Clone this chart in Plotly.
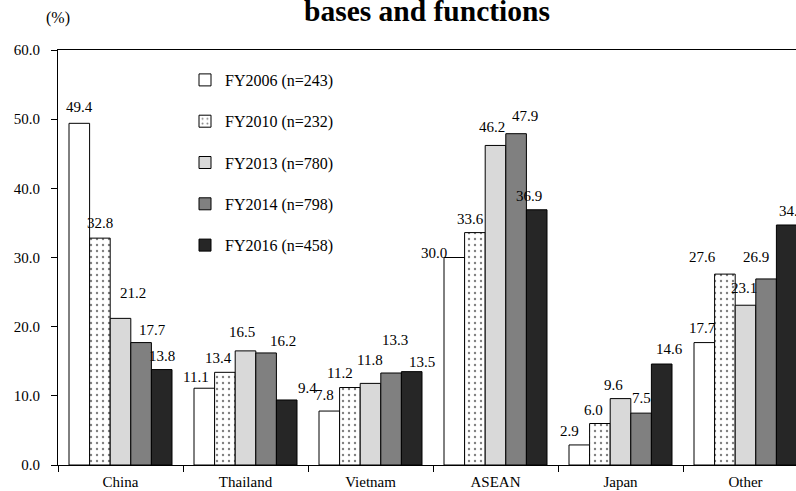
import plotly.graph_objects as go

categories = ["China", "Thailand", "Vietnam", "ASEAN", "Japan", "Other"]
series_names = ["FY2006 (n=243)", "FY2010 (n=232)", "FY2013 (n=780)", "FY2014 (n=798)", "FY2016 (n=458)"]
fy2006 = [49.4, 11.1, 7.8, 30.0, 2.9, 17.7]
fy2010 = [32.8, 13.4, 11.2, 33.6, 6.0, 27.6]
fy2013 = [21.2, 16.5, 11.8, 46.2, 9.6, 23.1]
fy2014 = [17.7, 16.2, 13.3, 47.9, 7.5, 26.9]
fy2016 = [13.8, 9.4, 13.5, 36.9, 14.6, 34.7]
series_values = [fy2006, fy2010, fy2013, fy2014, fy2016]
y_ticks = [0, 10, 20, 30, 40, 50, 60]

# styling
fills = ["#ffffff", "#ffffff", "#d9d9d9", "#808080", "#262626"]
patterns = ["", ".", "", "", ""]
FONT = "Liberation Serif"
# per-label nudges (dx px, height above bar top px), series x category
label_dx = [
    [0, -8, -4.5, -20, -10, -2],
    [0, -6, -10, -4, -6, -22],
    [12, -3.5, -1, -4, -7.5, -1.5],
    [11, 17, 4, 9, 0, -10],
    [0, 21, 10, -8, 8, 6],
]
label_up = [
    [16, 11, 16, 5, 14, 15],
    [15, 14, 15, 14, 13.5, 17],
    [25, 19, 23, 18, 13.6, 17],
    [12.5, 12, 33, 18, 15, 22],
    [14, 12, 10, 14, 15, 14],
]

L, R, T, B = 58, 0, 50, 26
W, H = 796, 491
plot_w = W - L - R
cat_px = 125.0
bargap = 0.176
bar_px = cat_px * (1 - bargap) / 5

fig = go.Figure()
for i, (name, vals) in enumerate(zip(series_names, series_values)):
    fig.add_trace(go.Bar(
        x=categories, y=vals, name=name, legendgroup=str(i),
        marker=dict(color=fills[i], line=dict(color="#000000", width=1),
                    pattern=dict(shape=patterns[i], fgcolor="#000000", bgcolor="#ffffff",
                                 size=6, solidity=0.12)),
        cliponaxis=True,
    ))
    for j, v in enumerate(vals):
        fig.add_annotation(
            x=categories[j], y=v, xref="x", yref="y",
            text=f"{v:.1f}", showarrow=False,
            xanchor="center", yanchor="middle",
            xshift=(i - 2) * bar_px + label_dx[i][j], yshift=label_up[i][j],
            font=dict(family=FONT, size=15, color="#000000"),
        )

fig.add_annotation(x=(426.5 - L) / plot_w, y=1 + (50 - 11) / 415, xref="paper", yref="paper",
                   text="<b>bases and functions</b>", showarrow=False,
                   xanchor="center", yanchor="middle",
                   font=dict(family=FONT, size=29.5, color="#000000"))
fig.add_annotation(x=0, y=1 + (50 - 18.5) / 415, xref="paper", yref="paper",
                   text="(%)", showarrow=False, xanchor="center", yanchor="middle",
                   font=dict(family=FONT, size=16, color="#000000"))

fig.update_layout(
    width=W, height=H,
    margin=dict(l=L, r=R, t=T, b=B, pad=0),
    paper_bgcolor="#ffffff", plot_bgcolor="#ffffff",
    barmode="group", bargap=bargap, bargroupgap=0,
    font=dict(family=FONT, size=15, color="#000000"),
    showlegend=True,
    legend=dict(x=(185 - L) / plot_w, y=1 - (63 - 50) / 415, xanchor="left", yanchor="top",
                bgcolor="rgba(0,0,0,0)", borderwidth=0, traceorder="grouped",
                tracegroupgap=17.5, font=dict(family=FONT, size=16, color="#000000")),
)
fig.update_xaxes(
    type="category", range=[-0.5, -0.5 + plot_w / cat_px],
    showline=True, linecolor="#000000", linewidth=1, mirror=True,
    ticks="outside", tickson="boundaries", ticklen=6, tickcolor="#000000",
    showgrid=False, tickfont=dict(family=FONT, size=15),
    ticklabelstandoff=3,
)
fig.update_yaxes(
    range=[0, 60], tickvals=y_ticks, tickformat=".1f",
    showline=True, linecolor="#000000", linewidth=1,
    ticks="outside", ticklen=6, tickcolor="#000000",
    showgrid=False, zeroline=False, tickfont=dict(family=FONT, size=15),
    ticklabelstandoff=8,
)

fig.write_html("out.html")
